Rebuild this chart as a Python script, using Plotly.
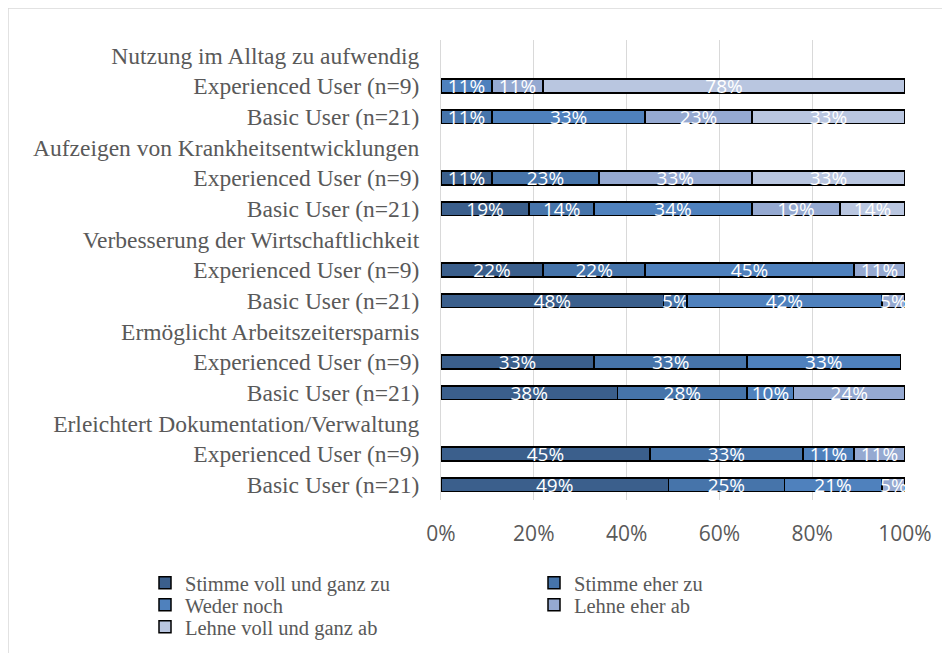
import plotly.graph_objects as go

# ---- data ----
row_labels = [
    "Nutzung im Alltag zu aufwendig",
    "Experienced User (n=9)",
    "Basic User (n=21)",
    "Aufzeigen von Krankheitsentwicklungen",
    "Experienced User (n=9)",
    "Basic User (n=21)",
    "Verbesserung der Wirtschaftlichkeit",
    "Experienced User (n=9)",
    "Basic User (n=21)",
    "Ermöglicht Arbeitszeitersparnis",
    "Experienced User (n=9)",
    "Basic User (n=21)",
    "Erleichtert Dokumentation/Verwaltung",
    "Experienced User (n=9)",
    "Basic User (n=21)",
]

series_names = [
    "Stimme voll und ganz zu",
    "Stimme eher zu",
    "Weder noch",
    "Lehne eher ab",
    "Lehne voll und ganz ab",
]

# None = header row or no answer
stimme_voll = [None, None, None, None, 11, 19, None, 22, 48, None, 33, 38, None, 45, 49]
stimme_eher = [None, None, 11, None, 23, 14, None, 22, 5, None, 33, 28, None, 33, 25]
weder_noch = [None, 11, 33, None, None, 34, None, 45, 42, None, 33, 10, None, 11, 21]
lehne_eher = [None, 11, 23, None, 33, 19, None, 11, 5, None, None, 24, None, 11, 5]
lehne_voll = [None, 78, 33, None, 33, 14, None, None, None, None, None, None, None, None, None]

series_values = [stimme_voll, stimme_eher, weder_noch, lehne_eher, lehne_voll]
colors = ["#3B5F8C", "#4674AA", "#4F81BD", "#95A9D1", "#B9C6E0"]

x_ticks = [0, 20, 40, 60, 80, 100]
x_ticktext = ["0%", "20%", "40%", "60%", "80%", "100%"]

ypos = list(range(len(row_labels)))

# legend rows: two columns, three rows
legend_ids = ["legend", "legend", "legend2", "legend2", "legend3"]

fig = go.Figure()
for name, vals, col, lg in zip(series_names, series_values, colors, legend_ids):
    fig.add_trace(go.Bar(
        y=ypos, x=vals, name=name, orientation="h",
        marker=dict(color=col, line=dict(color="#000000", width=1.5)),
        width=0.45,
        text=[f"{v}%" if v is not None else None for v in vals],
        textposition="inside", insidetextanchor="middle",
        textfont=dict(color="white", family="Open Sans", size=19),
        cliponaxis=False,
        hoverinfo="x+name",
        legend=lg,
    ))

# plot area in pixels (figure coordinates)
L, R, T, B = 433, 53, 32, 161
W, H = 950, 653
pw, ph = W - L - R, H - T - B


def py(yfig):
    return 1 - (yfig - T) / ph


legend_common = dict(
    orientation="h", x=(137 - L) / pw, xanchor="left", yanchor="middle",
    entrywidth=344, entrywidthmode="pixels",
    font=dict(family="Liberation Serif", size=20.5, color="#595959"),
    itemwidth=30, traceorder="normal", bgcolor="rgba(0,0,0,0)",
)

fig.update_layout(
    barmode="stack",
    width=W, height=H,
    margin=dict(l=L, r=R, t=T, b=B, autoexpand=False),
    paper_bgcolor="white", plot_bgcolor="white",
    uniformtext=dict(minsize=19, mode="show"),
    showlegend=True,
    legend=dict(legend_common, y=py(575)),
    legend2=dict(legend_common, y=py(597)),
    legend3=dict(legend_common, y=py(619)),
    xaxis=dict(
        range=[0, 100], tickvals=x_ticks, ticktext=x_ticktext,
        showgrid=True, gridcolor="#D9D9D9", gridwidth=1,
        zeroline=False, showline=False, ticks="",
        ticklabelstandoff=19,
        tickfont=dict(family="Open Sans", size=21, color="#595959"),
        fixedrange=True,
    ),
    yaxis=dict(
        range=[14.5, -0.5], tickvals=ypos, ticktext=row_labels,
        showgrid=False, zeroline=False, ticks="",
        showline=True, linecolor="#D9D9D9", linewidth=1,
        ticklabelstandoff=16,
        tickfont=dict(family="Liberation Serif", size=23.5, color="#595959"),
        fixedrange=True,
    ),
    shapes=[dict(
        type="rect", xref="paper", yref="paper",
        x0=-L / pw, x1=1 + R / pw, y0=-B / ph, y1=1 + T / ph,
        line=dict(color="#D9D9D9", width=1.5), layer="below",
    )],
)

fig.write_html("out.html")
